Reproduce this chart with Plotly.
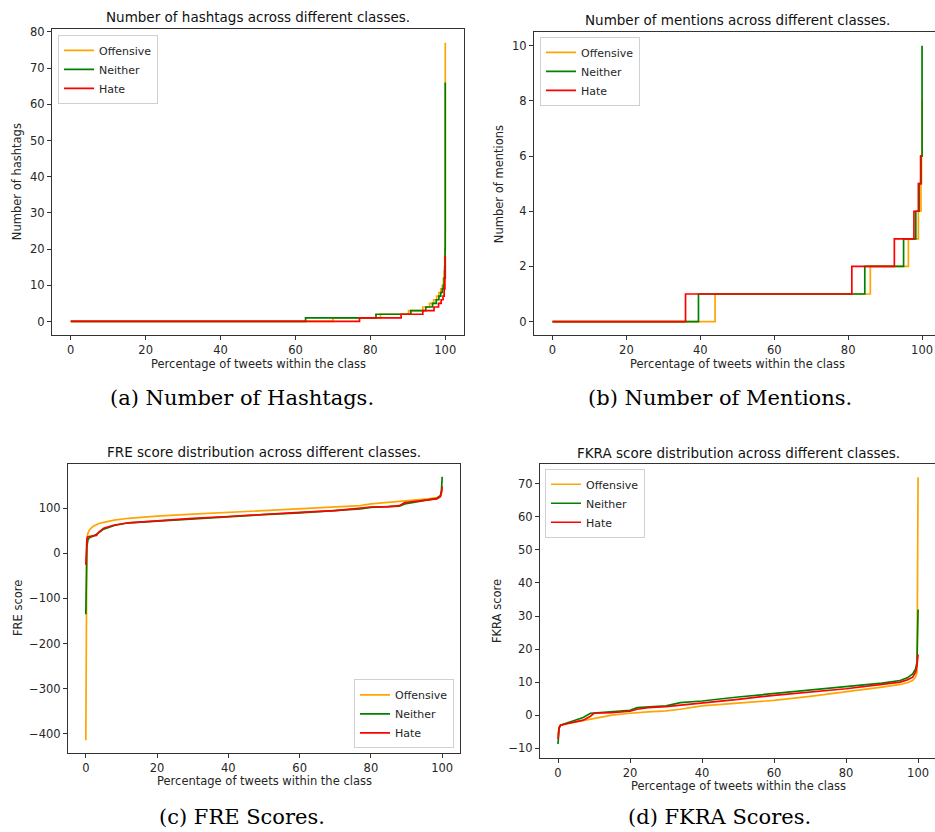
import plotly.graph_objects as go

# ---------------- data ----------------
classes = ["Offensive", "Neither", "Hate"]
colors = {"Offensive": "#FFA500", "Neither": "#008000", "Hate": "#FF0000"}

# (a) number of hashtags: step curves (start percentage of each level, level)
ht_off_x = [0, 70.0, 82.7, 90.2, 94.0, 95.8, 96.9, 97.7, 98.3, 98.8, 99.2, 99.5, 99.7, 99.85, 99.95, 100]
ht_off_y = [0, 1, 2, 3, 4, 5, 6, 7, 8, 9, 10, 12, 14, 18, 25, 77]
ht_nei_x = [0, 62.7, 81.5, 90.8, 94.8, 96.6, 97.6, 98.3, 98.8, 99.2, 99.5, 99.7, 99.85, 99.95, 100]
ht_nei_y = [0, 1, 2, 3, 4, 5, 6, 7, 8, 9, 10, 12, 15, 20, 66]
ht_hate_x = [0, 77.1, 88.2, 94.0, 97.0, 98.2, 98.9, 99.4, 99.7, 99.9, 100]
ht_hate_y = [0, 1, 2, 3, 4, 5, 6, 7, 9, 12, 18]

# (b) number of mentions
mn_off_x = [0, 44.0, 86.0, 96.3, 99.0, 99.7, 99.85, 100]
mn_off_y = [0, 1, 2, 3, 4, 5, 6, 8]
mn_nei_x = [0, 39.5, 84.5, 95.0, 98.3, 99.2, 99.7, 100]
mn_nei_y = [0, 1, 2, 3, 4, 5, 6, 10]
mn_hate_x = [0, 36.0, 81.0, 92.5, 97.8, 99.0, 99.6, 100]
mn_hate_y = [0, 1, 2, 3, 4, 5, 6, 6]

# (c) FRE scores
fre_pct = [0, 0.1, 0.3, 0.6, 1, 2, 3, 3.5, 5, 8, 12, 20, 30, 40, 50, 60, 70, 75, 77,
           80, 85, 88, 89.5, 93, 96, 98.5, 99.5, 99.8, 100]
fre_off = [-415, -60, 35, 45, 52, 60, 64, 66, 69, 74, 78, 83, 87, 91, 95, 99, 103, 105, 106,
           110, 113, 115, 116, 118, 121, 124, 128, 135, 150]
fre_nei = [-135, -30, 15, 30, 35, 38, 42, 45, 54, 62, 68, 72, 77, 81, 86, 90, 95, 98, 99,
           102, 104, 105, 110, 114, 119, 122, 128, 140, 170]
fre_hate = [-25, 10, 32, 37, 38, 39, 40, 46, 56, 63, 68, 73, 78, 82, 87, 91, 95, 99, 102,
            103, 104, 106, 113, 116, 119, 121, 126, 135, 148]

# (d) FKRA scores
fk_pct = [0, 0.3, 0.7, 3, 5, 7, 9, 10, 15, 20, 22, 25, 30, 34, 40, 50, 60, 70, 80, 90,
          95, 97, 98.5, 99.3, 99.7, 100]
fk_off = [-6, -3.5, -3, -2.3, -2, -1.6, -1.3, -1.2, 0, 0.6, 0.8, 1, 1.3, 1.8, 2.8, 3.7, 4.5,
          5.7, 7, 8.5, 9.3, 9.8, 10.5, 11.5, 13, 72]
fk_nei = [-8.7, -4, -3, -2.2, -1.6, -0.7, 0.6, 0.7, 1, 1.5, 2.3, 2.5, 2.8, 3.8, 4.3, 5.5, 6.5,
          7.5, 8.5, 9.7, 10.5, 11.3, 12.5, 14, 16, 32]
fk_hate = [-7.2, -3.8, -3, -2.5, -2.1, -1.5, -0.3, 0.6, 0.8, 1.2, 1.8, 2.3, 2.6, 3, 3.6, 4.8,
           6, 7, 8, 9.3, 10, 10.7, 11.5, 13, 15, 18.4]

titles = ["Number of hashtags across different classes.",
          "Number of mentions across different classes.",
          "FRE score distribution across different classes.",
          "FKRA score distribution across different classes."]
ylabels = ["Number of hashtags", "Number of mentions", "FRE score", "FKRA score"]
xlabel = "Percentage of tweets within the class"
captions = ["(a) Number of Hashtags.", "(b) Number of Mentions.",
            "(c) FRE Scores.", "(d) FKRA Scores."]
x_ticks = [0, 20, 40, 60, 80, 100]

# ---------------- figure ----------------
W, H = 935, 832


def px_x(X):
    return X / W


def px_y(Y):
    return 1 - Y / H


fig = go.Figure()

panels = [
    dict(series=[(ht_off_x, ht_off_y), (ht_nei_x, ht_nei_y), (ht_hate_x, ht_hate_y)], shape="hv",
         px=(52, 464), py=(25, 333), xr=[-5, 105], yr=[-3.85, 80.85], yt=list(range(0, 81, 10)),
         leg=dict(x=58, y=31, xa="left", ya="top"), mirror_y=True),
    dict(series=[(mn_off_x, mn_off_y), (mn_nei_x, mn_nei_y), (mn_hate_x, mn_hate_y)], shape="hv",
         px=(534, 935), py=(28, 333), xr=[-5, 103.5], yr=[-0.5, 10.5], yt=list(range(0, 11, 2)),
         leg=dict(x=540, y=33, xa="left", ya="top"), mirror_y=False),
    dict(series=[(fre_pct, fre_off), (fre_pct, fre_nei), (fre_pct, fre_hate)], shape="linear",
         px=(68, 460), py=(462, 753), xr=[-5, 105], yr=[-444, 199], yt=list(range(-400, 101, 100)),
         leg=dict(x=454, y=748, xa="right", ya="bottom"), mirror_y=True),
    dict(series=[(fk_pct, fk_off), (fk_pct, fk_nei), (fk_pct, fk_hate)], shape="linear",
         px=(540, 935), py=(462, 758), xr=[-5, 104.7], yr=[-13.05, 76.05], yt=list(range(-10, 71, 10)),
         leg=dict(x=545, y=467, xa="left", ya="top"), mirror_y=False),
]

title_pos = [(258, 13), (737, 16), (264, 450), (738, 451)]
xlab_pos = [(258, 362), (737, 362), (264, 781), (738, 786)]
ylab_pos = [(17, 179), (499, 181), (18, 607), (497, 610)]
cap_pos = [(242, 396), (720, 396), (242, 817), (719, 817)]

font_fam = "DejaVu Sans"
txt_col = "#262626"

for i, p in enumerate(panels):
    k = "" if i == 0 else str(i + 1)
    legname = "legend" + k
    for cls, (xs, ys) in zip(classes, p["series"]):
        fig.add_trace(go.Scatter(
            x=xs, y=ys, mode="lines", name=cls,
            line=dict(color=colors[cls], width=1.7, shape=p["shape"]),
            xaxis="x" + k, yaxis="y" + k, legend=legname, showlegend=True,
        ))
    xd = [max(px_x(p["px"][0]), 0.0), min(px_x(p["px"][1]), 1.0)]
    yd = [px_y(p["py"][1]), px_y(p["py"][0])]
    common = dict(showgrid=False, zeroline=False, showline=True, linecolor="#333333", linewidth=1,
                  ticks="outside", ticklen=4, tickwidth=1, tickcolor="#333333",
                  tickfont=dict(family=font_fam, size=11.5, color=txt_col))
    fig.update_layout(**{
        "xaxis" + k: dict(domain=xd, range=p["xr"], tickvals=x_ticks, mirror=True,
                          anchor="y" + k, **common),
        "yaxis" + k: dict(domain=yd, range=p["yr"], tickvals=p["yt"], mirror=p["mirror_y"],
                          anchor="x" + k, **common),
        legname: dict(x=px_x(p["leg"]["x"]), y=px_y(p["leg"]["y"]),
                      xanchor=p["leg"]["xa"], yanchor=p["leg"]["ya"],
                      bgcolor="rgba(255,255,255,0.9)", bordercolor="#d0d0d0", borderwidth=1,
                      font=dict(family=font_fam, size=11, color=txt_col),
                      tracegroupgap=0, itemwidth=30),
    })

annotations = []
for i in range(4):
    annotations.append(dict(text=titles[i], x=px_x(title_pos[i][0]), y=px_y(title_pos[i][1]),
                            xref="paper", yref="paper", showarrow=False, xanchor="center", yanchor="middle",
                            font=dict(family=font_fam, size=13.5, color="#111111")))
    annotations.append(dict(text=xlabel, x=px_x(xlab_pos[i][0]), y=px_y(xlab_pos[i][1]),
                            xref="paper", yref="paper", showarrow=False, xanchor="center", yanchor="middle",
                            font=dict(family=font_fam, size=11.5, color=txt_col)))
    annotations.append(dict(text=ylabels[i], x=px_x(ylab_pos[i][0]), y=px_y(ylab_pos[i][1]),
                            xref="paper", yref="paper", showarrow=False, xanchor="center", yanchor="middle",
                            textangle=-90, font=dict(family=font_fam, size=11.5, color=txt_col)))
    annotations.append(dict(text=captions[i], x=px_x(cap_pos[i][0]), y=px_y(cap_pos[i][1]),
                            xref="paper", yref="paper", showarrow=False, xanchor="center", yanchor="middle",
                            font=dict(family="DejaVu Serif", size=21, color="#000000")))

fig.update_layout(width=W, height=H, margin=dict(l=0, r=0, t=0, b=0),
                  paper_bgcolor="white", plot_bgcolor="white", annotations=annotations)

# remove the browser's default page margin so the figure fills the window exactly
fig.write_html("out.html", config={"displayModeBar": False},
               post_script="document.body.style.margin='0';document.body.style.overflow='hidden';")
